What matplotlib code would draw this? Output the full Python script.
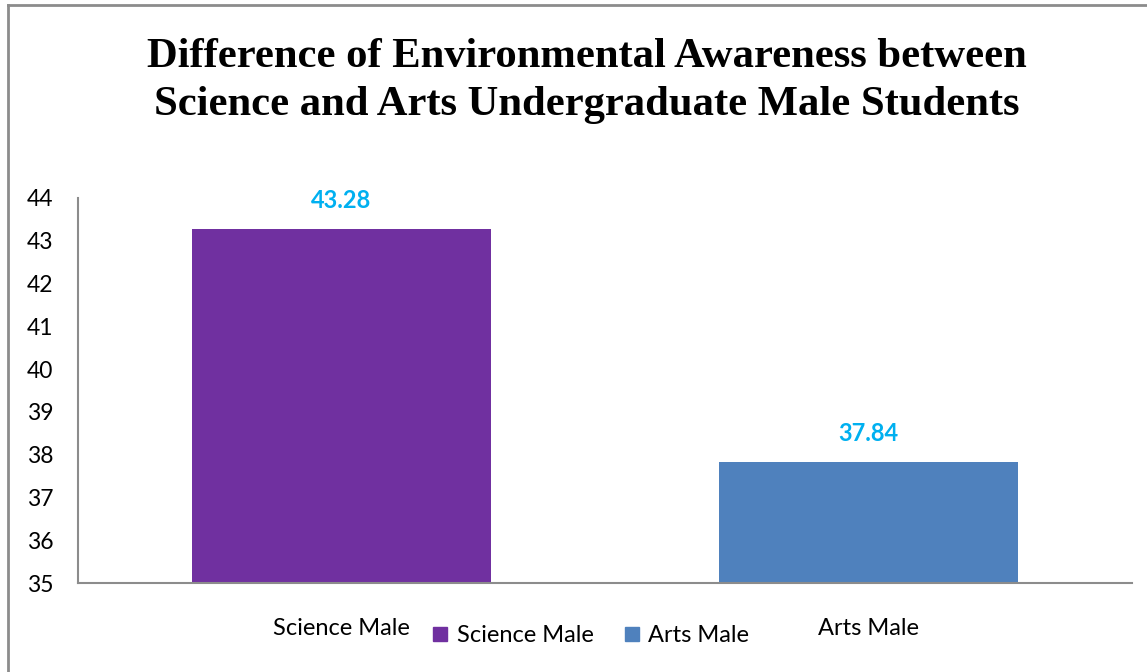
import matplotlib
matplotlib.use("Agg")
import matplotlib.pyplot as plt
from matplotlib.lines import Line2D

plt.rcParams["font.family"] = ["Lato", "DejaVu Sans"]

categories = ["Science Male", "Arts Male"]
values = [43.28, 37.84]
colors = ["#7030A0", "#4F81BD"]
yticks = [35, 36, 37, 38, 39, 40, 41, 42, 43, 44]
title = "Difference of Environmental Awareness between\nScience and Arts Undergraduate Male Students"

W, H = 1147, 672
fig = plt.figure(figsize=(W / 100, H / 100), dpi=100)
ax = fig.add_axes([78 / W, (H - 583) / H, (1132 - 78) / W, (583 - 198) / H])

x = list(range(len(categories)))
bars = ax.bar(x, values, width=0.568, color=colors, bottom=0)
ax.set_xlim(-0.5, 1.5)
ax.set_ylim(35, 44)
ax.set_yticks(yticks)
ax.set_yticklabels([str(t) for t in yticks], fontsize=16.5)
ax.set_xticks(x)
ax.set_xticklabels(categories, fontsize=17)
ax.tick_params(axis="both", length=0)
ax.tick_params(axis="x", pad=25)
ax.tick_params(axis="y", pad=37)
for lab in ax.get_yticklabels():
    lab.set_horizontalalignment("left")

for s in ["top", "right"]:
    ax.spines[s].set_visible(False)
for s in ["left", "bottom"]:
    ax.spines[s].set_color("#8c8c8c")
    ax.spines[s].set_linewidth(1.5)

for xi, v in zip(x, values):
    ax.annotate(f"{v:.2f}", (xi, v), xytext=(0, 12), textcoords="offset points",
                ha="center", va="bottom", color="#00B0F0", fontweight="bold",
                fontsize=17)

handles = [Line2D([], [], marker="s", linestyle="none", markersize=10.5,
                  markerfacecolor=c, markeredgecolor=c) for c in colors]
fig.legend(handles, categories, loc="center", bbox_to_anchor=(590 / W, 1 - 636 / H),
           ncol=2, frameon=False, prop={"size": 17},
           handletextpad=0.3, columnspacing=1.2, handlelength=0.8)

fig.text(587 / W, 1 - 81 / H, title, ha="center", va="center", fontfamily="Liberation Serif",
         fontweight="bold", fontsize=30.7, linespacing=1.32)

fig.add_artist(Line2D([8 / W, 8 / W], [0, 1 - 5 / H], transform=fig.transFigure,
                      color="#8c8c8c", linewidth=2))
fig.add_artist(Line2D([8 / W, 1], [1 - 5 / H, 1 - 5 / H], transform=fig.transFigure,
                      color="#8c8c8c", linewidth=2))

fig.savefig("out.png", dpi=100)
